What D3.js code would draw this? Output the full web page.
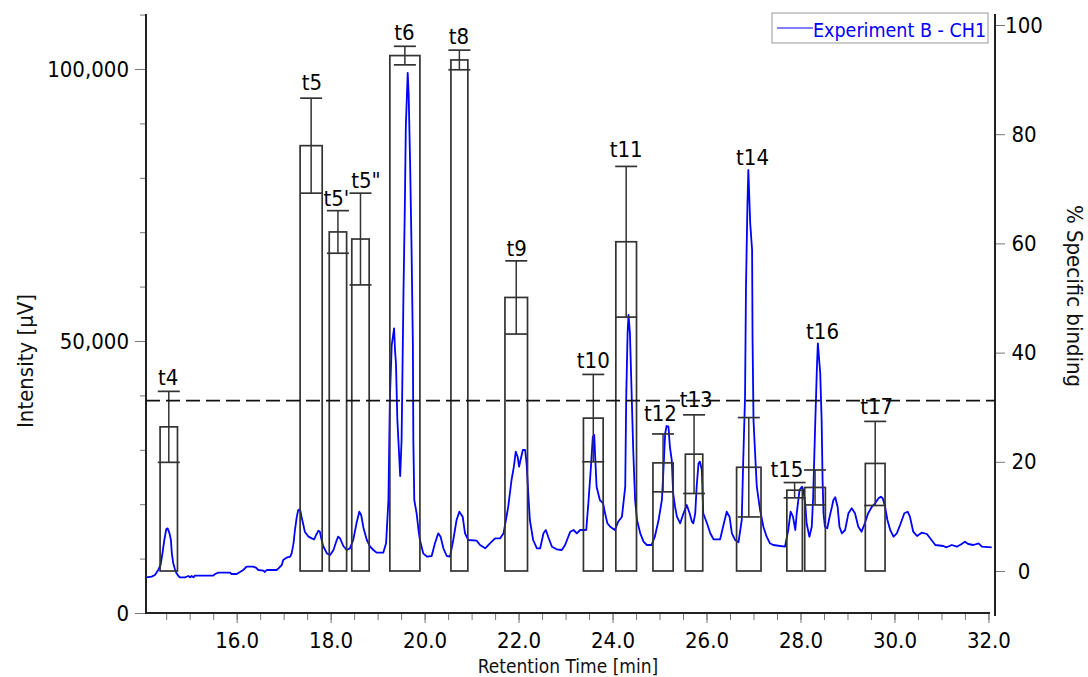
<!DOCTYPE html>
<meta charset="utf-8">
<style>
  body { margin: 0; background: #fff; }
  svg text { font-family: "DejaVu Sans Condensed", "DejaVu Sans", sans-serif; font-stretch: condensed; }
</style>
<svg width="1088" height="677" id="chart"></svg>

<script src="https://d3js.org/d3.v7.min.js"></script>
<script>

// chromatogram, Experiment B - CH1 (minutes, µV)
var traceTime = [
  14.08, 14.19, 14.26, 14.33, 14.38, 14.42, 14.46, 14.50, 14.53, 14.57, 14.60, 14.62, 14.65, 14.69, 14.72, 14.76, 14.79,
  14.90, 14.97, 15.01, 15.04, 15.08, 15.11, 15.50, 15.54, 15.61, 15.86, 15.89, 16.00, 16.07, 16.14, 16.21, 16.35,
  16.41, 16.46, 16.57, 16.60, 16.64, 16.85, 16.89, 16.96, 16.99, 17.06, 17.14, 17.17, 17.21, 17.24, 17.28, 17.31,
  17.35, 17.38, 17.42, 17.45, 17.53, 17.60, 17.65, 17.69, 17.74, 17.77, 17.80, 17.84, 17.92, 17.99, 18.06, 18.13,
  18.16, 18.20, 18.27, 18.34, 18.41, 18.48, 18.55, 18.61, 18.65, 18.70, 18.77, 18.84, 18.91, 18.98, 19.12,
  19.18, 19.23, 19.26, 19.30, 19.35, 19.37, 19.39, 19.42, 19.48, 19.51, 19.55, 19.58, 19.60, 19.64, 19.66, 19.69,
  19.72, 19.75, 19.76, 19.78, 19.83, 19.87, 19.90, 19.97, 20.05, 20.15, 20.22, 20.29, 20.34, 20.40, 20.47, 20.54,
  20.61, 20.68, 20.74, 20.81, 20.86, 20.93, 21.11, 21.18, 21.29, 21.39, 21.50, 21.61, 21.68, 21.73, 21.78, 21.85,
  21.90, 21.94, 21.98, 22.01, 22.05, 22.09, 22.14, 22.17, 22.21, 22.24, 22.31, 22.39, 22.46, 22.53, 22.58, 22.63,
  22.71, 22.81, 22.92, 22.99, 23.10, 23.17, 23.24, 23.31, 23.44, 23.49, 23.54, 23.58, 23.61, 23.63, 23.66, 23.73,
  23.80, 23.84, 23.89, 23.95, 24.05, 24.12, 24.20, 24.27, 24.29, 24.32, 24.34, 24.37, 24.41, 24.44, 24.48, 24.52,
  24.59, 24.66, 24.73, 24.83, 24.90, 24.98, 25.05, 25.08, 25.12, 25.15, 25.19, 25.22, 25.26, 25.29, 25.33, 25.37,
  25.44, 25.51, 25.58, 25.64, 25.69, 25.72, 25.76, 25.79, 25.83, 25.86, 25.90, 25.93, 26.01, 26.08,
  26.15, 26.29, 26.37, 26.43, 26.49, 26.54, 26.61, 26.68, 26.75, 26.78, 26.82, 26.84, 26.87, 26.89, 26.93, 26.97,
  26.98, 27.00, 27.02, 27.07, 27.14, 27.21, 27.28, 27.35, 27.42, 27.57, 27.67, 27.74, 27.79, 27.84, 27.89, 27.92,
  27.98, 28.03, 28.06, 28.10, 28.13, 28.19, 28.24, 28.27, 28.31, 28.35, 28.37, 28.42, 28.45, 28.47, 28.49, 28.52,
  28.57, 28.62, 28.67, 28.70, 28.74, 28.79, 28.83, 28.88, 28.95, 29.02, 29.09, 29.16, 29.23, 29.30, 29.37, 29.44,
  29.52, 29.59, 29.66, 29.71, 29.75, 29.80, 29.85, 29.91, 29.98, 30.05, 30.12, 30.21, 30.28, 30.33, 30.40, 30.48,
  30.58, 30.69, 30.76, 30.87, 31.04, 31.11, 31.22, 31.33, 31.43, 31.50, 31.57, 31.68, 31.79, 31.86, 32.07
];
var traceIntensity = [
  6557, 6678, 6985, 7904, 8823, 10969, 13419, 15380, 15564, 14645, 13419, 10969, 9130, 7904, 7292, 6801, 6557,
  6557, 6801, 6557, 6801, 6557, 6862, 6862, 7169, 7414, 7414, 7169, 7169, 7537, 7904, 8517, 8517,
  8333, 7904, 7782, 7537, 7904, 7904, 8211, 8823, 9742, 10171, 10355, 10969, 12807, 15257, 17708, 18933,
  19056, 17708, 16176, 14950, 14031, 13725, 13541, 14338, 15134, 14950, 13725, 12316, 10969, 10662, 11581, 13419,
  14031, 13725, 12316, 11581, 11888, 13419, 16483, 18627, 18014, 15564, 13419, 12194, 11581, 11091, 11091,
  12812, 20772, 39154, 49264, 52334, 48345, 45900, 35477, 25183, 31801, 58767, 75311, 89392, 99263, 95531, 83270,
  67958, 49576, 31801, 20772, 18327, 15257, 13419, 10974, 10349, 10478, 12812, 14650, 14025, 11893, 10478, 10349,
  13419, 17095, 18621, 17702, 14650, 13419, 13290, 12500, 11893, 12812, 13731, 13731, 14650, 17095, 19540, 24448,
  26893, 29650, 28731, 26893, 28437, 29963, 29963, 27518, 21378, 17095, 13419, 11893, 11893, 14650, 15257, 14025,
  12187, 11709, 11581, 12500, 14945, 15257, 14650, 15257, 15257, 20772, 26893, 32407, 32720, 28731, 23216, 20772,
  20165, 18327, 16489, 15864, 15257, 16783, 17702, 23216, 39154, 51414, 54778, 51414, 39154, 29963, 20772, 17095,
  14650, 13106, 12500, 12500, 14025, 17095, 20772, 25680, 33033, 34374, 34246, 30569, 28124, 22003, 19540, 17702,
  16489, 18327, 19853, 18327, 16783, 16489, 18327, 23216, 27518, 27812, 26286, 18327, 16489, 14650,
  13548, 13548, 16489, 18621, 17702, 14650, 13419, 12996, 17095, 27518, 39760, 59980, 74686, 81432, 71635, 66727,
  50183, 35477, 31801, 23216, 18933, 15864, 14025, 12812, 12500, 12316, 12187, 15257, 18621, 17702, 15257, 18327,
  22610, 23216, 22610, 20165, 16489, 14025, 15864, 21378, 33639, 45275, 49576, 44062, 35477, 24448, 18327, 15864,
  15570, 17702, 19540, 20772, 21268, 19540, 15864, 14650, 15257, 18327, 19246, 18327, 15864, 14945, 16489, 18327,
  19540, 20165, 21084, 21378, 21084, 19540, 17095, 15257, 14025, 14650, 16176, 18327, 18621, 17702, 14945, 14154,
  14761, 14522, 13731, 12500, 12316, 12077, 12500, 12187, 12684, 13106, 12684, 12500, 12812, 12187, 12077
];

// collected fractions, % specific binding (mean and sd)
var fractions   = ["t4", "t5", "t5'", "t5\"", "t6", "t8", "t9", "t10", "t11", "t12", "t13", "t14", "t15", "t16", "t17"];
var fracStart   = [14.37, 17.35, 17.97, 18.45, 19.26, 20.56, 21.71, 23.38, 24.07, 24.86, 25.55, 26.64, 27.71, 28.09, 29.38];
var fracEnd     = [14.74, 17.82, 18.34, 18.82, 19.90, 20.92, 22.19, 23.80, 24.51, 25.29, 25.92, 27.16, 28.04, 28.53, 29.80];
var bindingMean = [26.4, 77.9, 62.1, 60.8, 94.4, 93.6, 50.1, 28.0, 60.3, 19.8, 21.4, 19.0, 14.8, 15.3, 19.7];
var bindingSD   = [6.5, 8.7, 3.9, 8.4, 1.7, 1.8, 6.7, 8.0, 13.8, 5.3, 7.2, 9.1, 1.4, 3.2, 7.7];
// where each fraction name sits (minutes, %)
var labelTime    = [14.54, 17.60, 18.12, 18.75, 19.57, 20.73, 21.96, 23.59, 24.29, 25.02, 25.78, 26.98, 27.71, 28.47, 29.62];
var labelBinding = [34.1, 88.1, 66.8, 70.1, 97.3, 96.5, 57.7, 37.1, 75.9, 27.5, 30.1, 74.4, 17.3, 42.4, 28.8];

var threshold = 31.2;

var timeTicks = [16, 18, 20, 22, 24, 26, 28, 30, 32];
var intensityTicks = [0, 50000, 100000];
var bindingTicks = [0, 20, 40, 60, 80, 100];

var svg = d3.select("#chart");

var x = d3.scaleLinear().domain([14.07, 32.14]).range([146, 995]);
var yI = d3.scaleLinear().domain([0, 110110]).range([613, 14]);
var yP = d3.scaleLinear().domain([0, 100]).range([571, 25]);

var ink = "#333";

// axes: minor ticks first, then labelled ones
svg.append("g")
  .attr("transform", "translate(0,613)")
  .call(d3.axisBottom(x).tickValues(d3.range(14.5, 32.01, 0.5)).tickSize(7).tickFormat(""))
  .call(g => g.select(".domain").remove())
  .call(g => g.selectAll("line").attr("stroke", "#777"));

svg.append("g")
  .attr("transform", "translate(0,613)")
  .call(d3.axisBottom(x).tickValues(timeTicks).tickSize(10).tickPadding(9).tickFormat(d3.format(".1f")))
  .call(g => g.select(".domain").remove())
  .call(g => g.selectAll("line").attr("stroke", "#777"))
  .call(g => g.selectAll("text").attr("font-size", 22).attr("fill", "#000").attr("font-family", null));

svg.append("g")
  .attr("transform", "translate(146,0)")
  .call(d3.axisLeft(yI).tickValues(d3.range(10000, 110001, 10000)).tickSize(6).tickFormat(""))
  .call(g => g.select(".domain").remove())
  .call(g => g.selectAll("line").attr("stroke", "#777"));

svg.append("g")
  .attr("transform", "translate(146,0)")
  .call(d3.axisLeft(yI).tickValues(intensityTicks).tickSize(11).tickPadding(6).tickFormat(d3.format(",")))
  .call(g => g.select(".domain").remove())
  .call(g => g.selectAll("line").attr("stroke", "#777"))
  .call(g => g.selectAll("text").attr("font-size", 22).attr("fill", "#000").attr("font-family", null));

svg.append("g")
  .attr("transform", "translate(995,0)")
  .call(d3.axisRight(yP).tickValues(bindingTicks).tickSize(10).tickFormat(d3.format("d")))
  .call(g => g.select(".domain").remove())
  .call(g => g.selectAll("line").attr("stroke", "#777"))
  .call(g => g.selectAll("text").attr("font-size", 22).attr("fill", "#000").attr("font-family", null)
              .attr("text-anchor", "middle").attr("x", 29));

// axis lines
svg.append("line").attr("x1", 146).attr("x2", 146).attr("y1", 14).attr("y2", 614)
  .attr("stroke", "#222").attr("stroke-width", 2);
svg.append("line").attr("x1", 145).attr("x2", 990).attr("y1", 613).attr("y2", 613)
  .attr("stroke", "#222").attr("stroke-width", 2);
svg.append("line").attr("x1", 995).attr("x2", 995).attr("y1", 14).attr("y2", 616)
  .attr("stroke", "#222").attr("stroke-width", 2);

// axis titles
svg.append("text")
  .attr("transform", "translate(33,361) rotate(-90)")
  .attr("text-anchor", "middle").attr("font-size", 22).attr("fill", "#111")
  .text("Intensity [µV]");

svg.append("text")
  .attr("transform", "translate(1067,296) rotate(90)")
  .attr("text-anchor", "middle").attr("font-size", 22).attr("fill", "#111")
  .text("% Specific binding");

svg.append("text")
  .attr("x", 568).attr("y", 673)
  .attr("text-anchor", "middle").attr("font-size", 19).attr("fill", "#111")
  .text("Retention Time [min]");

// chromatogram
var trace = traceTime.map((t, i) => [t, traceIntensity[i]]);

svg.append("path")
  .datum(trace)
  .attr("fill", "none")
  .attr("stroke", "#0000ff")
  .attr("stroke-width", 1.8)
  .attr("stroke-linejoin", "round")
  .attr("d", d3.line().x(d => x(d[0])).y(d => yI(d[1])));

// fraction bars with error bars
var bars = fractions.map((name, i) => ({
  name: name, start: fracStart[i], end: fracEnd[i], mean: bindingMean[i], sd: bindingSD[i],
  lt: labelTime[i], lb: labelBinding[i]
}));

var cap = 11;

var fr = svg.append("g").selectAll("g").data(bars).enter().append("g");

fr.append("rect")
  .attr("x", d => x(d.start))
  .attr("y", d => yP(d.mean))
  .attr("width", d => x(d.end) - x(d.start))
  .attr("height", d => yP(0) - yP(d.mean))
  .attr("fill", "none")
  .attr("stroke", ink)
  .attr("stroke-width", 1.7);

fr.append("line")
  .attr("x1", d => x((d.start + d.end) / 2))
  .attr("x2", d => x((d.start + d.end) / 2))
  .attr("y1", d => yP(d.mean - d.sd))
  .attr("y2", d => yP(d.mean + d.sd))
  .attr("stroke", ink).attr("stroke-width", 1.5);

fr.selectAll(".cap")
  .data(d => [d.mean - d.sd, d.mean + d.sd].map(v => ({ v: v, c: (d.start + d.end) / 2 })))
  .enter().append("line")
  .attr("class", "cap")
  .attr("x1", d => x(d.c) - cap)
  .attr("x2", d => x(d.c) + cap)
  .attr("y1", d => yP(d.v))
  .attr("y2", d => yP(d.v))
  .attr("stroke", ink).attr("stroke-width", 1.7);

fr.append("text")
  .attr("x", d => x(d.lt))
  .attr("y", d => yP(d.lb))
  .attr("text-anchor", "middle")
  .attr("font-size", 22)
  .attr("fill", "#000")
  .text(d => d.name);

// threshold
svg.append("line")
  .attr("x1", 146).attr("x2", 995)
  .attr("y1", yP(threshold)).attr("y2", yP(threshold))
  .attr("stroke", "#111").attr("stroke-width", 1.8)
  .attr("stroke-dasharray", "14,6");

// legend
var leg = svg.append("g");
leg.append("rect").attr("x", 772).attr("y", 13).attr("width", 216).attr("height", 30)
  .attr("fill", "#fff").attr("stroke", "#999");
leg.append("line").attr("x1", 777).attr("x2", 813).attr("y1", 28).attr("y2", 28)
  .attr("stroke", "#0000ff").attr("stroke-width", 1);
leg.append("text").attr("x", 813).attr("y", 37)
  .attr("font-size", 19.5).attr("fill", "#0000ff")
  .text("Experiment B - CH1");

</script>
